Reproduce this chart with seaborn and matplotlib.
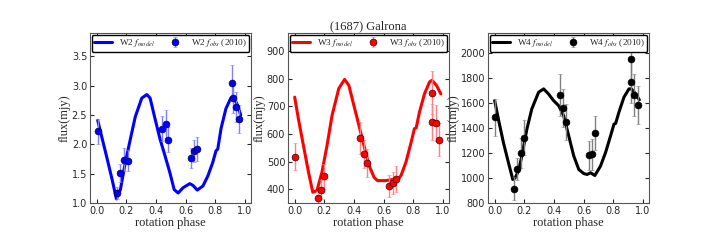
import numpy as np
import pandas as pd
import matplotlib
matplotlib.use('Agg')
import matplotlib.pyplot as plt
import seaborn as sns

# model curves (phase, flux)
model_phase_w2 = [0.007, 0.038, 0.071, 0.104, 0.133, 0.16, 0.193, 0.227, 0.26, 0.304, 0.338, 0.36,
                  0.393, 0.427, 0.46, 0.493, 0.522, 0.549, 0.582, 0.627, 0.649, 0.678, 0.716, 0.749,
                  0.782, 0.804, 0.816, 0.838, 0.871, 0.904, 0.922, 0.949, 0.971]
model_flux_w2 = [2.41, 2.09, 1.75, 1.40, 1.07, 1.23, 1.69, 2.09, 2.47, 2.79, 2.85, 2.79,
                 2.44, 2.09, 1.81, 1.52, 1.23, 1.17, 1.26, 1.33, 1.30, 1.22, 1.29, 1.46,
                 1.69, 1.89, 1.92, 2.27, 2.61, 2.79, 2.81, 2.67, 2.50]

model_phase_w3 = [0.0, 0.025, 0.059, 0.093, 0.122, 0.15, 0.184, 0.218, 0.252, 0.297, 0.336, 0.365,
                  0.399, 0.433, 0.467, 0.501, 0.535, 0.558, 0.615, 0.66, 0.683, 0.717, 0.75,
                  0.785, 0.807, 0.819, 0.841, 0.875, 0.909, 0.925, 0.955, 0.985]
model_flux_w3 = [733, 655, 558, 462, 389, 395, 462, 558, 667, 764, 797, 776,
                 703, 631, 558, 486, 443, 431, 431, 435, 425, 450, 498,
                 570, 619, 622, 679, 745, 788, 794, 776, 745]

model_phase_w4 = [0.0, 0.025, 0.059, 0.093, 0.122, 0.138, 0.16, 0.183, 0.217, 0.25, 0.296, 0.33,
                  0.363, 0.397, 0.431, 0.465, 0.499, 0.533, 0.567, 0.6, 0.623, 0.646, 0.675,
                  0.713, 0.747, 0.781, 0.804, 0.815, 0.837, 0.871, 0.905, 0.921, 0.95, 0.975]
model_flux_w4 = [1619, 1471, 1283, 1122, 988, 1001, 1055, 1176, 1391, 1552, 1686, 1713,
                 1672, 1619, 1579, 1498, 1337, 1176, 1068, 1036, 1028, 1042, 1020,
                 1095, 1203, 1337, 1431, 1436, 1525, 1646, 1713, 1713, 1672, 1625]

# observations (2010)
obs_phase_w2 = [0.011, 0.138, 0.16, 0.182, 0.209, 0.438, 0.464, 0.484, 0.633, 0.653, 0.678,
                0.913, 0.916, 0.936, 0.96]
obs_flux_w2 = [2.22, 1.17, 1.51, 1.74, 1.72, 2.27, 2.35, 2.08, 1.77, 1.89, 1.92,
               3.05, 2.79, 2.64, 2.44]
obs_err_w2 = [0.22, 0.1, 0.16, 0.19, 0.18, 0.21, 0.24, 0.21, 0.17, 0.19, 0.21,
              0.31, 0.25, 0.26, 0.24]

obs_phase_w3 = [0.002, 0.154, 0.177, 0.2, 0.442, 0.465, 0.485, 0.639, 0.664, 0.683,
                0.925, 0.925, 0.95, 0.973]
obs_flux_w3 = [518, 369, 398, 447, 585, 528, 494, 413, 423, 437, 749, 643, 640, 579]
obs_err_w3 = [50, 25, 35, 45, 58, 50, 50, 40, 40, 48, 77, 66, 64, 60]

obs_phase_w4 = [0.002, 0.131, 0.153, 0.176, 0.199, 0.442, 0.463, 0.483, 0.634, 0.657, 0.679,
                0.919, 0.919, 0.941, 0.964]
obs_flux_w4 = [1485, 915, 1074, 1203, 1323, 1664, 1560, 1450, 1181, 1189, 1358,
               1949, 1772, 1664, 1584]
obs_err_w4 = [148, 90, 90, 120, 140, 170, 150, 145, 115, 123, 135, 188, 170, 170, 155]

bands = ['W2', 'W3', 'W4']
colors = ['blue', 'red', 'black']
err_colors = ['#8080ff', '#ff8080', '#808080']
ylims = [(1.0, 3.9), (350, 965), (800, 2160)]
yticks = [np.arange(1.0, 3.6, 0.5), np.arange(400, 901, 100), np.arange(800, 2001, 200)]
ytick_fmt = ['%.1f', '%d', '%d']

sns.set_style('ticks')
plt.rcParams['font.family'] = ['DejaVu Sans']
plt.rcParams['mathtext.fontset'] = 'stix'
plt.rcParams['xtick.direction'] = 'in'
plt.rcParams['ytick.direction'] = 'in'

models = [(model_phase_w2, model_flux_w2), (model_phase_w3, model_flux_w3), (model_phase_w4, model_flux_w4)]
obs = [(obs_phase_w2, obs_flux_w2, obs_err_w2), (obs_phase_w3, obs_flux_w3, obs_err_w3),
       (obs_phase_w4, obs_flux_w4, obs_err_w4)]

fig = plt.figure(figsize=(7.2, 2.4), dpi=100)
lefts = [90 / 720, 288 / 720, 488 / 720]
serif = 'Liberation Serif'

for i in range(3):
    ax = fig.add_axes([lefts[i], 1 - 203 / 240, 161 / 720, 170 / 240])
    mdf = pd.DataFrame({'phase': models[i][0], 'flux': models[i][1]})
    sns.lineplot(data=mdf, x='phase', y='flux', ax=ax, color=colors[i], lw=2.2,
                 sort=False, label=bands[i] + r' $f_{model}$')
    ph, fl, er = obs[i]
    ax.errorbar(ph, fl, yerr=er, fmt='o', color=colors[i], ecolor=err_colors[i],
                elinewidth=1, capsize=1.5, ms=5, mec='black', mew=0.4,
                label=bands[i] + r' $f_{obs}$ (2010)')
    ax.set_xlim(-0.045, 1.04)
    ax.set_ylim(*ylims[i])
    ax.set_xticks(np.arange(0, 1.01, 0.2))
    ax.set_yticks(yticks[i])
    ax.set_yticklabels([ytick_fmt[i] % v for v in yticks[i]])
    ax.tick_params(labelsize=7, length=3, top=True, right=True, pad=2)
    ax.set_xlabel('rotation phase', family=serif, fontsize=9, labelpad=1)
    ax.set_ylabel('flux(mjy)', family=serif, fontsize=9, labelpad=1)
    for sp in ax.spines.values():
        sp.set_color('#555555')
        sp.set_linewidth(0.8)
    ax.legend(loc='lower left', bbox_to_anchor=(0.01, 0.89, 0.98, 0.08), mode='expand', ncol=2,
              prop={'family': serif, 'size': 6.7}, handlelength=1.9, borderpad=0.25,
              borderaxespad=0, fancybox=True, framealpha=1, edgecolor='black',
              handletextpad=0.8, columnspacing=0.8, labelspacing=0.2)
    if i == 1:
        ax.set_title('(1687) Galrona', family=serif, fontsize=9, pad=3)

fig.savefig('out.png', dpi=100)
